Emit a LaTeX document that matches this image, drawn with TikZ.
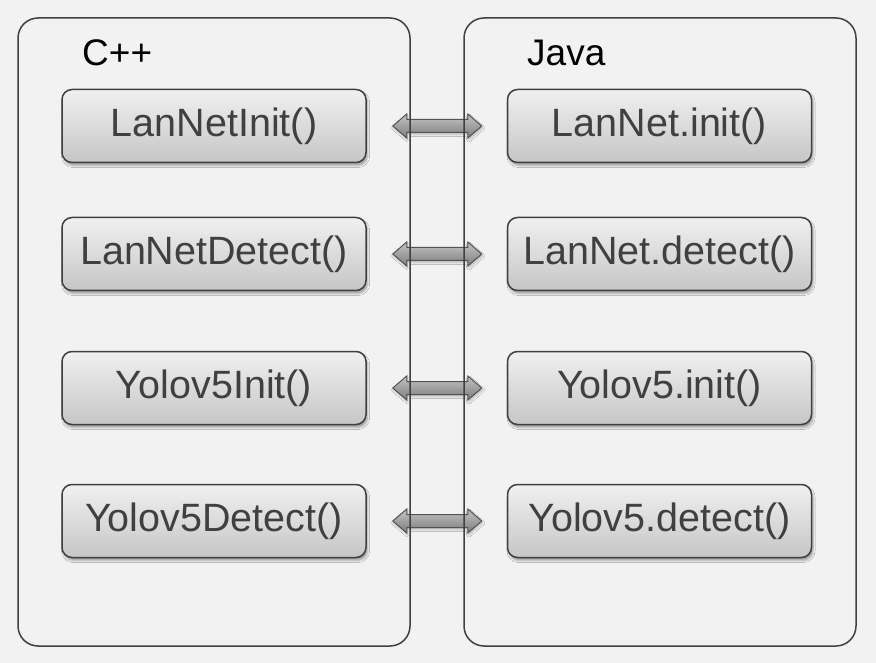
\documentclass[tikz,border=0pt]{standalone}
\usepackage{fontspec}
\setmainfont{Liberation Sans}
\usepackage{tikz}
\usetikzlibrary{positioning,calc,shadows.blur}
\definecolor{bggray}{HTML}{F2F2F2}
\definecolor{linegray}{HTML}{404040}
\definecolor{textgray}{HTML}{404040}
\definecolor{boxtop}{HTML}{F0F0F0}
\definecolor{boxbottom}{HTML}{C6C6C6}
\definecolor{arrtop}{HTML}{C4C4C4}
\definecolor{arrbottom}{HTML}{7C7C7C}

\newcommand{\fatarrow}[2]{%
  \path ($(#1.east)+(26,0)$) coordinate (s) ($(#2.west)+(-25,0)$) coordinate (e);
  \draw[fat arrow] (s) -- ++(14pt,12pt) -- ++(0,-5.5pt) -- ($(e)+(-14pt,6.5pt)$)
    -- ++(0,5.5pt) -- (e) -- ++(-14pt,-12pt) -- ++(0,5.5pt)
    -- ($(s)+(14pt,-6.5pt)$) -- ++(0,-5.5pt) -- cycle;}

\begin{document}
\begin{tikzpicture}[x=1pt,y=-1pt,
                    func node/.style={draw=linegray,line width=1.5pt,rounded corners=10pt,
                      top color=boxtop,bottom color=boxbottom,
                      minimum width=304pt,minimum height=73pt,inner sep=0pt,
                      text=textgray,font=\fontsize{39.5}{42}\selectfont,
                      blur shadow={shadow xshift=1.5pt,shadow yshift=-3pt,shadow opacity=35}},
                    lang box/.style={draw=linegray,line width=1.5pt,rounded corners=20pt},
                    lang title/.style={anchor=west,inner sep=0pt,font=\fontsize{37}{40}\selectfont},
                    fat arrow/.style={draw=linegray!90,line width=1pt,line join=miter,
                      top color=arrtop,bottom color=arrbottom,
                      blur shadow={shadow xshift=1pt,shadow yshift=-2pt,shadow opacity=25}}
                   ]
  \fill[bggray] (0,0) rectangle (876,663);
  \useasboundingbox (0,0) rectangle (876,663);

  \node[func node] (c1) at (214,126) {LanNetInit()};
  \node[func node] (c2) at (214,254) {LanNetDetect()};
  \node[func node] (c3) at (214,388) {Yolov5Init()};
  \node[func node] (c4) at (214,521) {Yolov5Detect()};
  \node[func node] (j1) at (659.5,126) {LanNet.init()};
  \node[func node] (j2) at (659.5,254) {LanNet.detect()};
  \node[func node] (j3) at (659.5,388) {Yolov5.init()};
  \node[func node] (j4) at (659.5,521) {Yolov5.detect()};

  \fatarrow{c1}{j1}
  \fatarrow{c2}{j2}
  \fatarrow{c3}{j3}
  \fatarrow{c4}{j4}

  \draw[lang box] (18,18) rectangle (410,646);
  \draw[lang box] (464,18) rectangle (856,646);
  \node[lang title] (cpp) at (82,52.5) {C++};
  \node[lang title] (java) at (527,52.5) {Java};
\end{tikzpicture}
\end{document}
